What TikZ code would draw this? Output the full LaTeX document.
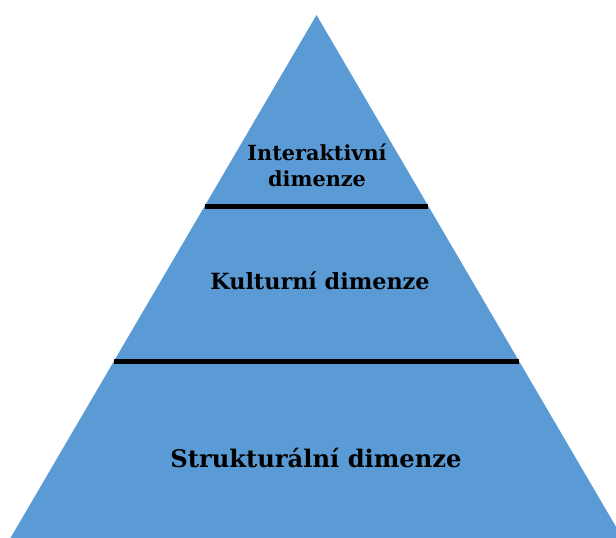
\documentclass[tikz,border=0pt]{standalone}
\usepackage{fontspec}
\setmainfont{DejaVu Serif}
\definecolor{pyr}{HTML}{5B9BD5}
\begin{document}
\begin{tikzpicture}[x=1pt,y=-1pt,
  lbl/.style={font=\bfseries, text=black, align=center, inner sep=0pt},
  sep/.style={line width=5pt, black}]
\useasboundingbox (0,0) rectangle (616,538);
\clip (0,0) rectangle (616,538);
\coordinate (apex) at (316.5,15);
\coordinate (bl) at (0.5,555);
\coordinate (br) at (632.5,555);
\fill[pyr] (apex) -- (bl) -- (br) -- cycle;
\coordinate (a1) at (205,206);
\coordinate (b1) at (428,206);
\coordinate (a2) at (114,361);
\coordinate (b2) at (519,361);
\draw[sep] (a1) -- (b1);
\draw[sep] (a2) -- (b2);
\node[lbl, font=\bfseries\fontsize{20.8}{26}\selectfont] (t1) at (317,165) {Interaktivní\\dimenze};
\node[lbl, font=\bfseries\fontsize{22.3}{24}\selectfont] (t2) at (320,281) {Kulturní dimenze};
\node[lbl, font=\bfseries\fontsize{24.2}{26}\selectfont] (t3) at (316,458) {Strukturální dimenze};
\end{tikzpicture}
\end{document}
